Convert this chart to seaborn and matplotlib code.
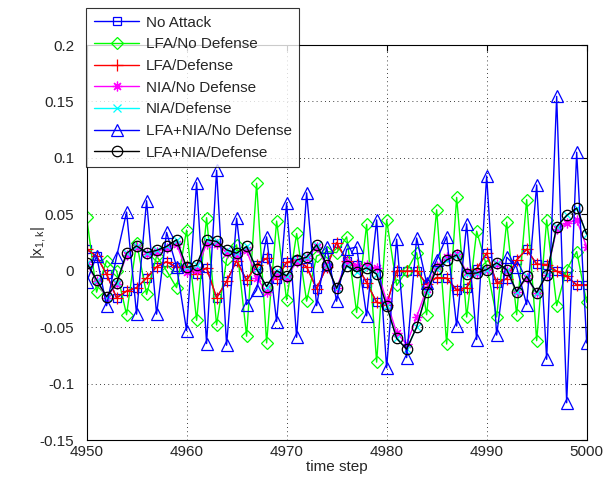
import numpy as np
import pandas as pd
import matplotlib
matplotlib.use('Agg')
import matplotlib.pyplot as plt
import seaborn as sns

# time steps 4950..5000
steps = list(range(4950, 5001))

no_attack = [0.019, 0.013, -0.003, -0.024, -0.018, -0.015, -0.0065, 0.0035, 0.008, 0.003,
             0.003, -0.003, 0.0025, -0.024, -0.0095, 0.009, -0.0085, 0.0055, 0.011, -0.0075,
             0.0075, 0.0095, 0.0035, -0.016, 0.0035, 0.025, 0.009, 0.005, -0.0105, -0.028,
             -0.030, 0.0, -0.0005, 0.0, -0.012, -0.006, -0.0065, -0.017, -0.015, 0.0015,
             0.0155, -0.011, -0.007, 0.0095, 0.019, 0.0058, 0.0055, -0.0005, -0.005, -0.0125,
             -0.0125]
lfa_no_def = [0.048, -0.019, 0.009, 0.0, -0.039, 0.025, -0.021, 0.013, 0.0, -0.015,
              0.036, -0.044, 0.047, -0.048, 0.010, 0.023, -0.058, 0.0775, -0.064, 0.044,
              -0.026, 0.033, -0.027, 0.013, 0.017, 0.016, 0.030, -0.037, 0.041, -0.081,
              0.045, -0.013, 0.0, 0.016, -0.039, 0.054, -0.065, 0.065, -0.041, 0.035,
              0.004, -0.041, 0.043, -0.039, 0.063, -0.062, 0.045, -0.031, 0.001, 0.017,
              -0.028]
lfa_def = [0.019, 0.013, -0.003, -0.024, -0.018, -0.015, -0.0065, 0.0035, 0.008, 0.003,
           0.003, -0.003, 0.0025, -0.024, -0.0095, 0.009, -0.0085, 0.0055, 0.011, -0.0075,
           0.0075, 0.0095, 0.0035, -0.016, 0.0035, 0.025, 0.009, 0.005, -0.0105, -0.028,
           -0.030, 0.0, -0.0005, 0.0, -0.012, -0.006, -0.0065, -0.017, -0.015, 0.0015,
           0.0155, -0.011, -0.007, 0.0095, 0.019, 0.0058, 0.0055, -0.0005, -0.005, -0.0125,
           -0.0125]
nia_no_def = [0.006, -0.009, -0.024, -0.012, 0.014, 0.021, 0.015, 0.017, 0.020, 0.024,
              -0.001, 0.001, 0.024, 0.024, 0.016, 0.013, 0.018, -0.006, -0.019, -0.003,
              -0.006, 0.008, 0.011, 0.021, 0.004, -0.015, 0.008, 0.004, 0.005, 0.002,
              -0.027, -0.055, -0.065, -0.041, -0.016, 0.004, 0.012, 0.015, -0.001, -0.002,
              0.001, 0.006, 0.0, -0.019, -0.006, -0.020, -0.004, 0.037, 0.042, 0.045,
              0.021]
nia_def = [0.007, -0.008, -0.023, -0.011, 0.0155, 0.022, 0.016, 0.018, 0.0215, 0.0275,
           0.003, 0.0048, 0.0275, 0.026, 0.0185, 0.0155, 0.0215, 0.0015, -0.014, 0.0,
           -0.0045, 0.0095, 0.012, 0.023, 0.0055, -0.0155, 0.0045, -0.001, 0.0025, -0.003,
           -0.031, -0.060, -0.0695, -0.050, -0.019, 0.0015, 0.0095, 0.014, -0.0025, -0.002,
           0.001, 0.007, 0.001, -0.0185, -0.005, -0.0195, -0.0035, 0.039, 0.049, 0.0555,
           0.0325]
both_no_def = [-0.010, 0.013, -0.031, 0.0125, 0.052, -0.0385, 0.062, -0.0385, 0.034, 0.0035,
               -0.053, 0.078, -0.0645, 0.089, -0.066, 0.0465, -0.030, -0.017, 0.030, -0.045,
               0.060, -0.059, 0.069, -0.031, 0.021, -0.027, 0.019, 0.021, -0.040, 0.045,
               -0.086, 0.028, -0.077, 0.029, -0.011, 0.0095, 0.030, -0.049, 0.0415, -0.061,
               0.084, -0.057, 0.012, 0.003, -0.030, 0.076, -0.0785, 0.1545, -0.117, 0.105,
               -0.064]
both_def = [0.007, -0.008, -0.023, -0.011, 0.0155, 0.022, 0.016, 0.018, 0.0215, 0.0275,
            0.003, 0.0048, 0.0275, 0.026, 0.0185, 0.0155, 0.0215, 0.0015, -0.014, 0.0,
            -0.0045, 0.0095, 0.012, 0.023, 0.0055, -0.0155, 0.0045, -0.001, 0.0025, -0.003,
            -0.031, -0.060, -0.0695, -0.050, -0.019, 0.0015, 0.0095, 0.014, -0.0025, -0.002,
            0.001, 0.007, 0.001, -0.0185, -0.005, -0.0195, -0.0035, 0.039, 0.049, 0.0555,
            0.0325]

labels = ['No Attack', 'LFA/No Defense', 'LFA/Defense', 'NIA/No Defense',
          'NIA/Defense', 'LFA+NIA/No Defense', 'LFA+NIA/Defense']
colors = ['#0000ff', '#00ff00', '#ff0000', '#ff00ff', '#00ffff', '#0000ff', '#000000']
# matlab style '*' is an 8-spoke asterisk
markers = ['s', 'D', '+', (8, 2, 0), 'x', '^', 'o']
msizes = [6, 6.5, 8, 7, 6, 8.5, 7.5]
series = [no_attack, lfa_no_def, lfa_def, nia_no_def, nia_def, both_no_def, both_def]

xticks = [4950, 4960, 4970, 4980, 4990, 5000]
yticks = [-0.15, -0.1, -0.05, 0, 0.05, 0.1, 0.15, 0.2]
ytick_labels = ['-0.15', '-0.1', '-0.05', '0', '0.05', '0.1', '0.15', '0.2']

sns.set_style('white')
plt.rcParams['font.family'] = ['Liberation Sans', 'DejaVu Sans']
plt.rcParams['mathtext.default'] = 'regular'

fig = plt.figure(figsize=(6.14, 4.8), dpi=100)
ax = fig.add_axes([0.141, 0.0833, 0.8145, 0.8229])

for vals, lab, c, m, ms in zip(series, labels, colors, markers, msizes):
    df = pd.DataFrame({'step': steps, 'val': vals})
    sns.lineplot(data=df, x='step', y='val', ax=ax, color=c, marker=m, markersize=ms,
                 markerfacecolor='none', markeredgecolor=c, markeredgewidth=0.9,
                 linewidth=1.0, label=lab)

ax.set_xlim(4950, 5000)
ax.set_ylim(-0.15, 0.2)
ax.set_xticks(xticks)
ax.set_xticklabels([str(t) for t in xticks])
ax.set_yticks(yticks)
ax.set_yticklabels(ytick_labels)
ax.tick_params(direction='in', top=True, right=True, labelsize=11, length=4, color='black')
ax.tick_params(axis='y', pad=9)
ax.grid(True, linestyle=(0, (1, 4)), color='black', linewidth=0.6)
for s in ax.spines.values():
    s.set_color('black')
    s.set_linewidth(0.8)
ax.set_xlabel('time step', fontsize=11, labelpad=1)
ax.set_ylabel(r'$|x_{1,k}|$', fontsize=11)
ax.yaxis.set_label_coords(-0.077, 0.5)

leg = ax.legend(loc='upper left', bbox_to_anchor=(0.140, 0.983), bbox_transform=fig.transFigure,
                fontsize=11, frameon=True, fancybox=False, edgecolor='black',
                borderpad=0.5, labelspacing=0.5, handlelength=3.0, handletextpad=0.4,
                borderaxespad=0)
leg.get_frame().set_linewidth(0.8)
leg.set_zorder(10)

fig.savefig('out.png', dpi=100)
